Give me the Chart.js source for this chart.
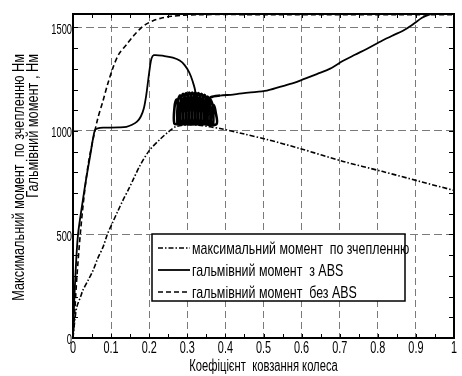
<!DOCTYPE html>
<html>
<head>
<meta charset="utf-8">
<script src="https://cdn.jsdelivr.net/npm/chart.js@4/dist/chart.umd.min.js"></script>
<style>
  html, body { margin: 0; padding: 0; background: #fff; }
  #wrap { width: 462px; height: 376px; }
</style>
</head>
<body>
<div id="wrap"><canvas id="chart"></canvas></div>
<script>
// axis ticks
const xTicks = [0, 0.1, 0.2, 0.3, 0.4, 0.5, 0.6, 0.7, 0.8, 0.9, 1];
const xTickLabels = ['0', '0.1', '0.2', '0.3', '0.4', '0.5', '0.6', '0.7', '0.8', '0.9', '1'];
const yTicks = [0, 500, 1000, 1500];
const yTickLabels = ['0', '500', '1000', '1500'];
const xMinor = [0.05, 0.1, 0.15, 0.2, 0.25, 0.3, 0.35, 0.4, 0.45, 0.5, 0.55, 0.6, 0.65, 0.7, 0.75, 0.8, 0.85, 0.9, 0.95];
const yMinor = [100, 200, 300, 400, 500, 600, 700, 800, 900, 1000, 1100, 1200, 1300, 1400, 1500];

const labels = [
    'максимальний момент  по зчепленню',
    'гальмівний момент  з ABS',
    'гальмівний момент  без ABS'
];
const xTitle = 'Коефіцієнт  ковзання колеса';
const yTitle = ['Максимальний момент  по зчепленню Нм', 'Гальмівний момент , Нм'];

// max torque by adhesion (dash-dot)
const adhX = [0, 0.005, 0.01, 0.02, 0.026, 0.04, 0.053, 0.065, 0.079, 0.09, 0.103, 0.117, 0.131, 0.145, 0.157, 0.175, 0.2, 0.228, 0.25, 0.27, 0.3, 0.33, 0.36, 0.386, 0.45, 0.509, 0.596, 0.709, 0.811, 0.911, 1];
const adhY = [0, 90, 150, 200, 231, 280, 328, 385, 440, 500, 554, 610, 665, 715, 761, 830, 905, 959, 995, 1021, 1030, 1028, 1020, 1012, 985, 959, 915, 853, 805, 756, 713];

// braking torque with ABS (solid); the middle block is the ABS cycling loops near s = 0.3
const absX = [0, 0.002, 0.006, 0.013, 0.026, 0.034, 0.045, 0.053, 0.058, 0.065, 0.08, 0.1, 0.12, 0.14, 0.155, 0.168, 0.178, 0.186, 0.192, 0.197, 0.202, 0.206, 0.212, 0.24, 0.262, 0.28, 0.293, 0.305, 0.314, 0.321, 0.325, 0.3, 0.28, 0.266,
    0.2665, 0.272, 0.2775, 0.279,
    0.274, 0.2755, 0.281, 0.2865, 0.288,
    0.282, 0.2835, 0.289, 0.2945, 0.296,
    0.290, 0.2915, 0.297, 0.3025, 0.304,
    0.298, 0.2995, 0.305, 0.3105, 0.312,
    0.306, 0.3075, 0.313, 0.3185, 0.320,
    0.314, 0.3155, 0.321, 0.3265, 0.328,
    0.322, 0.3235, 0.329, 0.3345, 0.336,
    0.330, 0.3315, 0.337, 0.3425, 0.344,
    0.338, 0.3395, 0.345, 0.3505, 0.352,
    0.346, 0.3475, 0.353, 0.3585, 0.360,
    0.354, 0.3555, 0.361, 0.3665, 0.368,
    0.362, 0.3635, 0.369, 0.3745, 0.377,
    0.352, 0.353, 0.362, 0.386, 0.42, 0.46, 0.509, 0.543, 0.58, 0.609, 0.64, 0.675, 0.709, 0.74, 0.772, 0.811, 0.84, 0.866, 0.89, 0.916, 0.935, 0.95, 1];
const absY = [0, 120, 290, 497, 667, 763, 880, 968, 1005, 1013, 1016, 1016, 1017, 1020, 1030, 1045, 1070, 1110, 1170, 1240, 1310, 1350, 1366, 1362, 1354, 1340, 1318, 1283, 1240, 1190, 1040, 1033, 1033, 1036,
    1115, 1152, 1125, 1036,
    1034, 1145, 1172, 1145, 1034,
    1034, 1152, 1180, 1152, 1034,
    1034, 1155, 1183, 1155, 1034,
    1034, 1157, 1185, 1157, 1034,
    1034, 1157, 1185, 1157, 1034,
    1034, 1157, 1185, 1157, 1034,
    1034, 1155, 1183, 1155, 1034,
    1034, 1152, 1180, 1152, 1034,
    1034, 1147, 1175, 1147, 1034,
    1034, 1138, 1166, 1138, 1034,
    1034, 1122, 1150, 1122, 1034,
    1034, 1097, 1125, 1090, 1034,
    1034, 1140, 1163, 1171, 1176, 1185, 1195, 1213, 1232, 1253, 1275, 1301, 1339, 1368, 1397, 1436, 1462, 1484, 1512, 1547, 1562, 1566, 1566];

// braking torque without ABS (dashed)
const noAbsX = [0, 0.005, 0.01, 0.02, 0.03, 0.04, 0.052, 0.065, 0.079, 0.09, 0.105, 0.12, 0.142, 0.16, 0.176, 0.19, 0.21, 0.235, 0.26, 0.29, 0.33, 0.5, 1];
const noAbsY = [0, 140, 290, 520, 700, 840, 954, 1060, 1147, 1220, 1306, 1370, 1421, 1462, 1493, 1514, 1532, 1547, 1554, 1559, 1562, 1562, 1562];

const pts = (xs, ys) => xs.map((v, i) => ({ x: v, y: ys[i] }));

const FONT = "'Liberation Sans', Arial, sans-serif";

// the reference uses a tightly condensed face; squeeze a regular one horizontally
function squeezeText(ctx, text, x, y, sx, align) {
    const w = ctx.measureText(text).width * sx;
    let left = x;
    if (align === 'center') left = x - w / 2;
    else if (align === 'right') left = x - w;
    ctx.save();
    ctx.translate(left, y);
    ctx.scale(sx, 1);
    ctx.textAlign = 'left';
    ctx.fillText(text, 0, 0);
    ctx.restore();
}

const decor = {
    id: 'decor',
    afterDatasetsDraw(chart) {
        const { ctx, chartArea: a, scales: { x, y } } = chart;
        ctx.save();
        ctx.strokeStyle = '#000';
        ctx.lineWidth = 1;
        ctx.setLineDash([]);
        ctx.beginPath();
        xMinor.forEach(v => {
            const px = Math.round(x.getPixelForValue(v)) + 0.5;
            ctx.moveTo(px, a.bottom); ctx.lineTo(px, a.bottom - 4);
            ctx.moveTo(px, a.top); ctx.lineTo(px, a.top + 4);
        });
        yMinor.forEach(v => {
            const py = Math.round(y.getPixelForValue(v)) + 0.5;
            ctx.moveTo(a.left, py); ctx.lineTo(a.left + 5, py);
            ctx.moveTo(a.right, py); ctx.lineTo(a.right - 5, py);
        });
        ctx.stroke();

        ctx.lineWidth = 2;
        ctx.strokeRect(a.left, a.top, a.right - a.left, a.bottom - a.top);

        // legend box inside the plot
        const bx = 152, by = 234, bw = 253, bh = 67;
        ctx.fillStyle = '#fff';
        ctx.fillRect(bx, by, bw, bh);
        ctx.lineWidth = 1.5;
        ctx.strokeRect(bx, by, bw, bh);
        ctx.font = '17px ' + FONT;
        ctx.textBaseline = 'middle';
        ctx.fillStyle = '#000';
        chart.data.datasets.forEach((ds, i) => {
            const ry = by + 14 + i * 22;
            ctx.beginPath();
            ctx.setLineDash(ds.borderDash || []);
            ctx.lineWidth = ds.borderWidth;
            ctx.moveTo(bx + 6, ry); ctx.lineTo(bx + 38, ry);
            ctx.stroke();
            ctx.setLineDash([]);
            squeezeText(ctx, ds.label, bx + 40, ry + 1, 0.73, 'left');
        });
        ctx.restore();
    },
    afterDraw(chart) {
        const { ctx, chartArea: a, scales: { x, y } } = chart;
        ctx.save();
        ctx.fillStyle = '#000';
        ctx.textBaseline = 'middle';
        ctx.font = '16px ' + FONT;
        x.ticks.forEach((t, i) => {
            squeezeText(ctx, xTickLabels[i], x.getPixelForValue(t.value), a.bottom + 11, 0.68, 'center');
        });
        ctx.font = '15px ' + FONT;
        y.ticks.forEach((t, i) => {
            squeezeText(ctx, yTickLabels[i], a.left - 1, y.getPixelForValue(t.value) + 2, 0.62, 'right');
        });
        ctx.font = '16px ' + FONT;
        squeezeText(ctx, xTitle, (a.left + a.right) / 2, 367, 0.7, 'center');

        ctx.font = '17px ' + FONT;
        ctx.rotate(-Math.PI / 2);
        squeezeText(ctx, yTitle[0], -54, 19, 0.75, 'right');
        squeezeText(ctx, yTitle[1], -54, 33, 0.75, 'right');
        ctx.restore();
    }
};

new Chart(document.getElementById('chart'), {
    type: 'scatter',
    data: {
        datasets: [
            {
                label: labels[0],
                data: pts(adhX, adhY),
                showLine: true,
                borderColor: '#000',
                borderWidth: 1.6,
                borderDash: [5, 2, 1.5, 2],
                pointRadius: 0,
                tension: 0.3
            },
            {
                label: labels[1],
                data: pts(absX, absY),
                showLine: true,
                borderColor: '#000',
                borderWidth: 1.8,
                pointRadius: 0,
                tension: 0.3,
                // the cycling block is drawn heavier, like the dense ink in the original
                segment: {
                    borderWidth: c => (c.p0.parsed.x > 0.26 && c.p0.parsed.x < 0.38 &&
                        c.p0.parsed.y < 1190 && c.p1.parsed.y < 1190) ? 2.6 : undefined
                }
            },
            {
                label: labels[2],
                data: pts(noAbsX, noAbsY),
                showLine: true,
                borderColor: '#000',
                borderWidth: 1.6,
                borderDash: [5, 3],
                pointRadius: 0,
                tension: 0.3
            }
        ]
    },
    options: {
        responsive: true,
        maintainAspectRatio: false,
        animation: false,
        layout: { padding: { top: 14, right: 8, left: 0, bottom: 0 } },
        plugins: {
            legend: { display: false },
            tooltip: { enabled: false }
        },
        scales: {
            x: {
                type: 'linear',
                min: 0,
                max: 1,
                afterBuildTicks: s => { s.ticks = xTicks.map(v => ({ value: v })); },
                afterFit: s => { s.height = 38; },
                grid: { color: '#7a7a7a', lineWidth: 1, drawTicks: false },
                border: { color: '#000', width: 2, dash: [7, 4] },
                ticks: { display: false }
            },
            y: {
                type: 'linear',
                min: 0,
                max: 1565,
                afterBuildTicks: s => { s.ticks = yTicks.map(v => ({ value: v })); },
                afterFit: s => { s.width = 73; },
                grid: { color: '#7a7a7a', lineWidth: 1, drawTicks: false },
                border: { color: '#000', width: 2, dash: [8, 4] },
                ticks: { display: false }
            }
        }
    },
    plugins: [decor]
});
</script>
</body>
</html>
